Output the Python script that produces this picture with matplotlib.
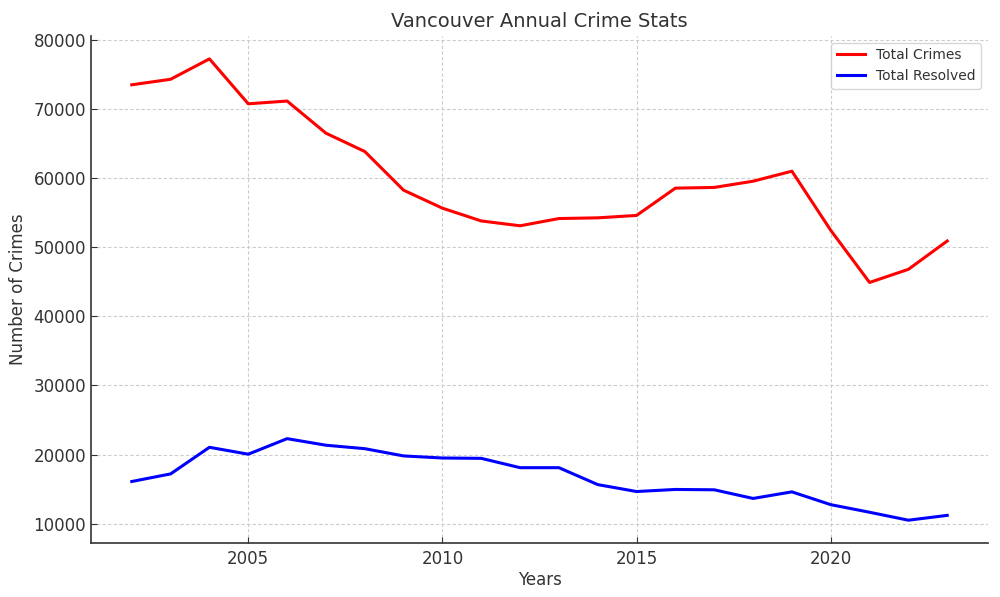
import matplotlib
matplotlib.use("Agg")
import matplotlib.pyplot as plt

years = list(range(2002, 2024))
total_crimes = [73500, 74300, 77250, 70750, 71150, 66500, 63850, 58250, 55650,
                53800, 53100, 54150, 54250, 54600, 58550, 58650, 59550, 61000,
                52450, 44900, 46800, 50900]
total_resolved = [16100, 17200, 21050, 20050, 22300, 21350, 20850, 19800, 19500,
                  19450, 18100, 18100, 15650, 14650, 14950, 14900, 13650, 14600,
                  12750, 11650, 10500, 11200]

text_color = "#333333"
plt.rcParams["font.family"] = "DejaVu Sans"

fig = plt.figure(figsize=(10, 5.97), dpi=100)
ax = fig.add_axes([0.091, 0.090, 0.897, 0.850])

ax.plot(years, total_crimes, color="red", lw=2.2, label="Total Crimes")
ax.plot(years, total_resolved, color="blue", lw=2.2, label="Total Resolved")

ax.set_title("Vancouver Annual Crime Stats", fontsize=14, color=text_color)
ax.set_xlabel("Years", fontsize=12, color=text_color, labelpad=2)
ax.set_ylabel("Number of Crimes", fontsize=12, color=text_color)
ax.yaxis.set_label_coords(-0.071, 0.5)

ax.set_xticks([2005, 2010, 2015, 2020])
ax.set_yticks(range(10000, 80001, 10000))
ax.tick_params(axis="both", labelsize=12, colors=text_color, length=4,
               direction="in")
ax.tick_params(axis="x", pad=5)

for s in ["top", "right"]:
    ax.spines[s].set_visible(False)
for s in ["left", "bottom"]:
    ax.spines[s].set_color(text_color)
    ax.spines[s].set_linewidth(1.2)

ax.grid(True, linestyle=(0, (3, 2)), color="#cccccc", linewidth=0.8)
ax.set_axisbelow(True)

leg = ax.legend(loc="upper right", fontsize=10, frameon=True)
leg.get_frame().set_edgecolor("#cccccc")
for t in leg.get_texts():
    t.set_color(text_color)

fig.savefig("out.png", dpi=100)
